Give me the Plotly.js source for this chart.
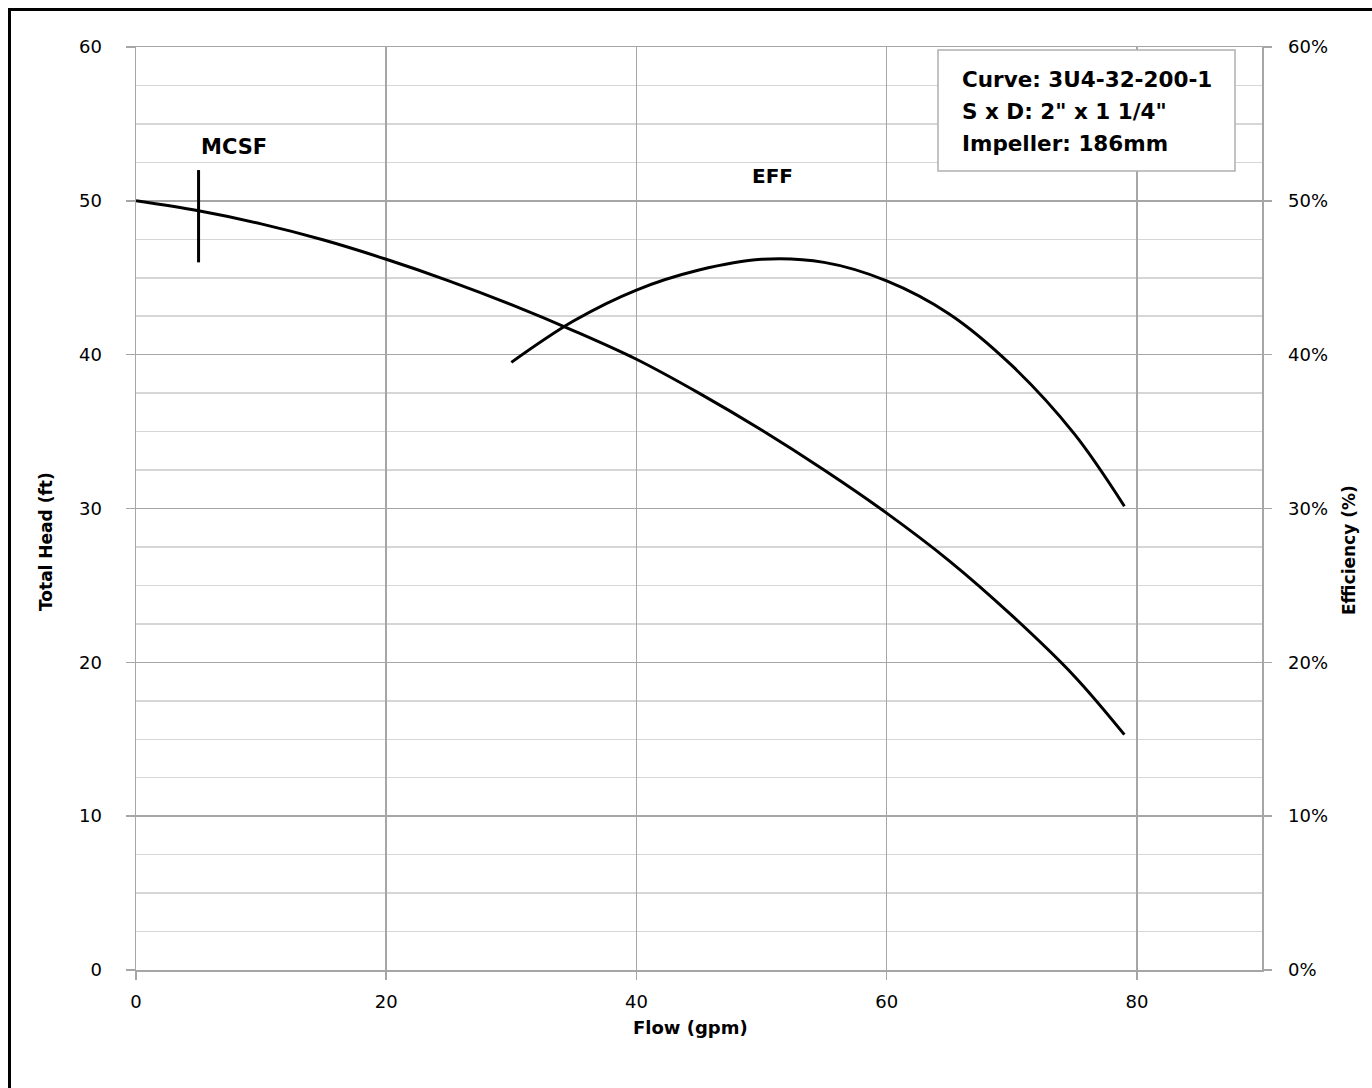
<!DOCTYPE html>
<html>
<head>
<meta charset="utf-8">
<script src="https://cdn.plot.ly/plotly-3.0.1.min.js"></script>
<style>
  html, body { margin: 0; padding: 0; background: #fff; }
  #chart { width: 1372px; height: 1088px; }
</style>
</head>
<body>
<div id="chart"></div>
<script>
// ---- data ----
const headFlow = [0, 5, 10, 15, 20, 25, 30, 35, 40, 45, 50, 55, 60, 65, 70, 75, 79];
const headFt   = [50, 49.35, 48.5, 47.45, 46.2, 44.8, 43.25, 41.55, 39.7, 37.5, 35.1, 32.5, 29.7, 26.6, 23.05, 19.1, 15.3];

const effFlow  = [30, 35, 40, 45, 50, 55, 60, 65, 70, 75, 79];
const effPct   = [39.5, 42.2, 44.2, 45.5, 46.2, 46.0, 44.8, 42.65, 39.3, 34.85, 30.15];

const mcsfFlow = [5, 5];
const mcsfHead = [46, 52];

const headTicks = [0, 10, 20, 30, 40, 50, 60];
const effTicks  = [0, 10, 20, 30, 40, 50, 60];
const flowTicks = [0, 20, 40, 60, 80];

const infoLines = ['Curve: 3U4-32-200-1', 'S x D: 2" x 1 1/4"', 'Impeller: 186mm'];
const labelMCSF = 'MCSF';
const labelEFF  = 'EFF';
// ---------------------------------------

const FONT = 'DejaVu Sans, Open Sans, sans-serif';
const GRID = '#a6a6a6';
const MINOR = '#d6d6d6';

const traces = [
  { x: headFlow, y: headFt, type: 'scatter', mode: 'lines', line: { color: '#000', width: 3, shape: 'spline', smoothing: 1 }, xaxis: 'x', yaxis: 'y', hoverinfo: 'skip' },
  { x: effFlow, y: effPct, type: 'scatter', mode: 'lines', line: { color: '#000', width: 3, shape: 'spline', smoothing: 1 }, xaxis: 'x', yaxis: 'y2', hoverinfo: 'skip' },
  { x: mcsfFlow, y: mcsfHead, type: 'scatter', mode: 'lines', line: { color: '#000', width: 3 }, xaxis: 'x', yaxis: 'y', hoverinfo: 'skip' }
];

// pixel helpers for positioning the frame (paper coords)
const L = 136, R = 110, T = 47, B = 118, W = 1372, H = 1088;
const pw = W - L - R, ph = H - T - B;
const px = p => (p - L) / pw;
const py = p => (H - B - p) / ph;

const annotations = [
  { x: 7.8, y: 53.5, xref: 'x', yref: 'y', text: '<b>' + labelMCSF + '</b>', showarrow: false, font: { family: FONT, size: 21, color: '#000' } },
  { x: 50.9, y: 51.6, xref: 'x', yref: 'y', text: '<b>' + labelEFF + '</b>', showarrow: false, font: { family: FONT, size: 20, color: '#000' } },
  { x: px(690), y: py(1040), xref: 'paper', yref: 'paper', text: '<b>Flow (gpm)</b>', showarrow: false, font: { family: FONT, size: 18, color: '#000' } },
  { x: px(34), y: py(542), xref: 'paper', yref: 'paper', text: '<b>Total Head (ft)</b>', textangle: -90, showarrow: false, font: { family: FONT, size: 17, color: '#000' } },
  { x: px(1361), y: py(550), xref: 'paper', yref: 'paper', text: '<b>Efficiency (%)</b>', textangle: -90, showarrow: false, font: { family: FONT, size: 17, color: '#000' } }
];
infoLines.forEach((t, i) => {
  annotations.push({ x: px(960), y: py(79 + i * 32), xref: 'paper', yref: 'paper', xanchor: 'left', yanchor: 'middle',
    text: '<b>' + t + '</b>', showarrow: false, font: { family: FONT, size: 21.5, color: '#000' } });
});

const shapes = [
  // info box
  { type: 'rect', xref: 'paper', yref: 'paper', x0: px(938), x1: px(1235), y0: py(171), y1: py(50),
    fillcolor: '#fff', line: { color: '#b0b0b0', width: 1.5 }, layer: 'above' },
  // outer frame (left & top visible, right & bottom off-canvas)
  { type: 'rect', xref: 'paper', yref: 'paper', x0: px(9.5), x1: px(1400), y0: py(1120), y1: py(9.5),
    fillcolor: 'rgba(0,0,0,0)', line: { color: '#000', width: 3 }, layer: 'above' }
];

const layout = {
  width: W, height: H,
  margin: { l: L, r: R, t: T, b: B, pad: 0 },
  paper_bgcolor: '#fff', plot_bgcolor: '#fff',
  showlegend: false,
  font: { family: FONT, size: 18, color: '#000' },
  xaxis: {
    range: [0, 90], tickvals: flowTicks, ticktext: flowTicks.map(String),
    showgrid: true, gridcolor: GRID, gridwidth: 1.5,
    zeroline: false, showline: true, linecolor: GRID, linewidth: 1.5, mirror: true,
    ticks: 'outside', ticklen: 8, tickcolor: GRID, tickwidth: 1.5,
    ticklabelstandoff: 7,
    tickfont: { family: FONT, size: 18, color: '#000' }
  },
  yaxis: {
    range: [0, 60], tickvals: headTicks, ticktext: headTicks.map(String),
    showgrid: true, gridcolor: GRID, gridwidth: 1.5,
    minor: { dtick: 2.5, showgrid: true, gridcolor: MINOR, gridwidth: 1.5, ticks: '' },
    zeroline: false, showline: true, linecolor: GRID, linewidth: 1.5, mirror: true,
    ticks: 'outside', ticklen: 9, tickcolor: GRID, tickwidth: 1.5,
    ticklabelstandoff: 20,
    tickfont: { family: FONT, size: 18, color: '#000' }
  },
  yaxis2: {
    range: [0, 60], overlaying: 'y', side: 'right',
    tickvals: effTicks, ticktext: effTicks.map(v => v + '%'),
    showgrid: false, zeroline: false, showline: true, linecolor: GRID, linewidth: 1.5,
    ticks: 'outside', ticklen: 8, tickcolor: GRID, tickwidth: 1.5,
    ticklabelstandoff: 13,
    tickfont: { family: FONT, size: 18, color: '#000' }
  },
  annotations: annotations,
  shapes: shapes
};

Plotly.newPlot('chart', traces, layout, { staticPlot: true, displayModeBar: false });
</script>
</body>
</html>
